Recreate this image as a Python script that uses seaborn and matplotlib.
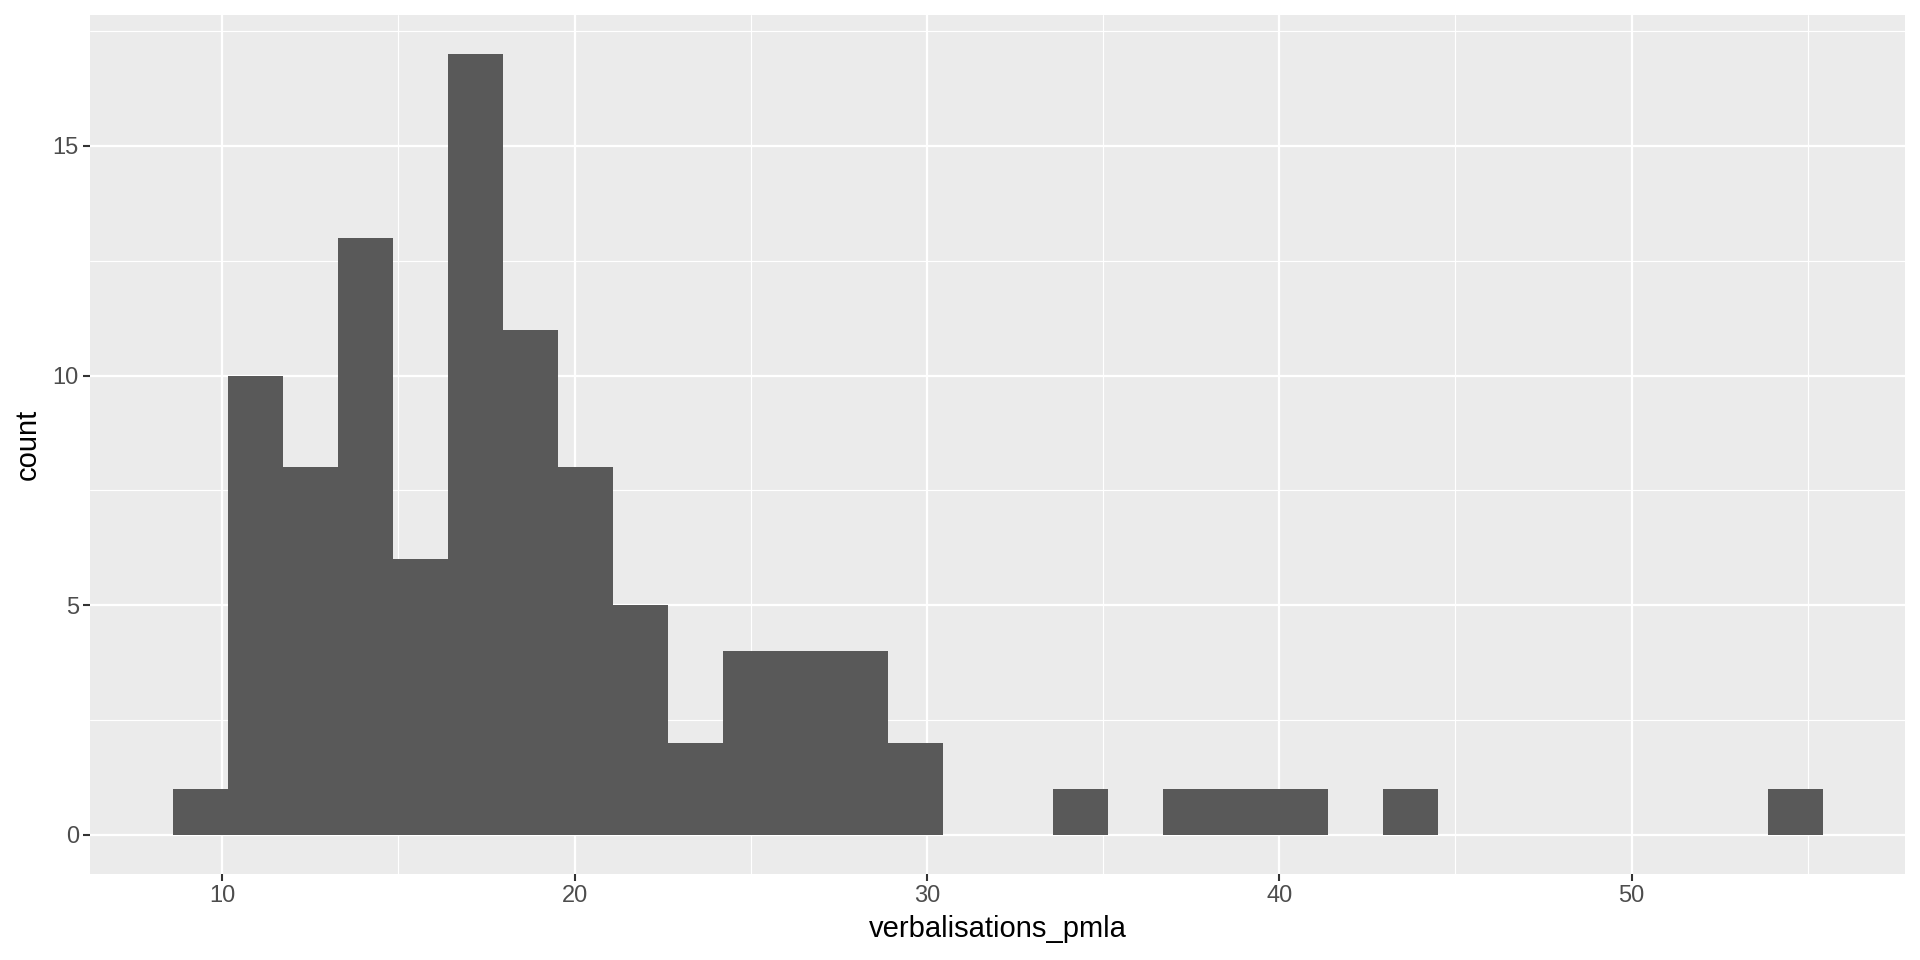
import matplotlib
matplotlib.use("Agg")
import matplotlib.pyplot as plt
from matplotlib.ticker import MultipleLocator
import seaborn as sns
import numpy as np
import pandas as pd

# histogram of verbalisations_pmla, 30 bins
bin_start = 8.59
bin_width = 1.561
bin_counts = [1, 10, 8, 13, 6, 17, 11, 8, 5, 2,
              4, 4, 4, 2, 0, 0, 1, 0, 1, 1,
              1, 0, 1, 0, 0, 0, 0, 0, 0, 1]
x_ticks = [10, 20, 30, 40, 50]
y_ticks = [0, 5, 10, 15]

edges = bin_start + bin_width * np.arange(len(bin_counts) + 1)
centers = (edges[:-1] + edges[1:]) / 2
df = pd.DataFrame({"verbalisations_pmla": centers, "n": bin_counts})
lo, hi = float(edges[0]), float(edges[-1])

sns.set_theme(style="darkgrid")
plt.rcParams['font.family'] = ['Liberation Sans', 'DejaVu Sans']

fig = plt.figure(figsize=(19.2, 9.6), dpi=100)
ax = fig.add_axes([90 / 1920, 1 - 874 / 960, 1815 / 1920, 859 / 960])

# step element = one filled outline, so neighbouring bars have no seams
sns.histplot(data=df, x="verbalisations_pmla", weights="n",
             bins=len(bin_counts), binrange=(lo, hi), element="step", ax=ax,
             color="#595959", alpha=1, edgecolor="none", linewidth=0, zorder=3)

# ggplot-like expansion (5%)
pad = (hi - lo) * 0.05
ax.set_xlim(lo - pad, hi + pad)
ymax = max(bin_counts)
ax.set_ylim(-ymax * 0.05, ymax * 1.05)

ax.set_facecolor("#EBEBEB")
ax.set_xticks(x_ticks)
ax.set_yticks(y_ticks)
ax.xaxis.set_minor_locator(MultipleLocator(5))
ax.yaxis.set_minor_locator(MultipleLocator(2.5))
ax.grid(which="major", color="white", linewidth=1.6)
ax.grid(which="minor", color="white", linewidth=0.8)
ax.set_axisbelow(True)
for s in ax.spines.values():
    s.set_visible(False)

ax.tick_params(axis="both", which="major", length=5, width=1.5, color="#333333",
               labelsize=17, labelcolor="#4D4D4D", pad=3, direction="out")
ax.tick_params(which="minor", length=0)
ax.tick_params(axis="x", bottom=True)
ax.tick_params(axis="y", left=True)

ax.set_xlabel("verbalisations_pmla", fontsize=21, color="black", labelpad=6)
ax.set_ylabel("count", fontsize=21, color="black", labelpad=8)

fig.savefig("out.png", dpi=100)
